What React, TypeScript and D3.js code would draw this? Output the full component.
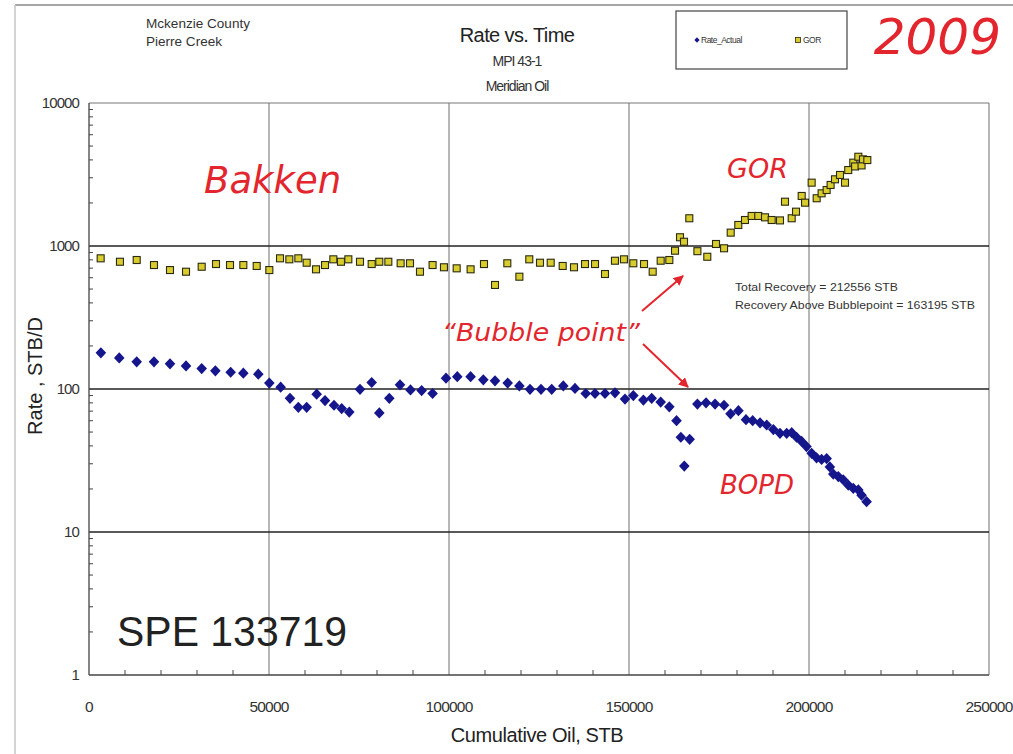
import React from "react";
import * as d3 from "d3";

// Cumulative oil (STB) and oil rate (STB/D) for each monthly point
const rateCumOil = [
  3300, 8400, 13250, 18050, 22500, 26950, 31300, 35100, 39350, 42870, 47030, 50090, 53240, 55830,
  58150, 60460, 63240, 65560, 68060, 70190, 72300, 75280, 78520, 80640, 83420, 86390, 89300, 92400,
  95440, 99170, 102300, 106000, 109530, 112780, 116300, 119550, 122500, 125560, 128530, 131750,
  135000, 137970, 140560, 143330, 146110, 148890, 151200, 154000, 156300, 158800, 161200, 163200,
  164400, 165360, 166850, 169000, 171400, 173900, 176400, 178200, 180400, 182500, 184350, 186400,
  188250, 190100, 191940, 193800, 195200, 196550, 197950, 199300, 200740, 202100, 203500, 204900,
  205800, 206750, 208140, 209500, 210900, 212300, 213700, 214600, 216000,
];
const rateActual = [
  179, 165, 155, 155, 150, 145, 139, 134, 131, 129, 127, 110, 103, 86, 74.5, 74.5, 92, 83, 77, 73,
  69, 99.5, 111, 68, 86, 107, 98.5, 97.5, 93, 119, 122, 122, 116, 114, 110, 105, 99.5, 99.5, 99.5,
  105, 101, 93, 93, 93, 94, 85, 90, 83.6, 86, 81, 75, 60, 46, 28.9, 44.5, 78.5, 80, 78.5, 77, 67,
  70.5, 61, 60, 58, 56, 52, 49, 49, 49.5, 46, 43, 39.6, 35.5, 33, 32.2, 32.6, 28.5, 25.4, 24.4, 23.2,
  21.3, 20.2, 19.7, 18.1, 16.3,
];

// Cumulative oil (STB) and gas-oil ratio for each point
const gorCumOil = [
  3240, 8600, 13250, 18050, 22500, 26950, 31300, 35280, 39170, 42870, 46580, 50090, 53060, 55650,
  58150, 60460, 63060, 65560, 67870, 69990, 72040, 75280, 78520, 80640, 83150, 86570, 89170, 91940,
  95440, 98600, 102130, 106000, 109720, 112780, 116200, 119550, 122300, 125280, 128250, 131580,
  134720, 137780, 140560, 143330, 146100, 148600, 151200, 154170, 156580, 158800, 161200, 162780,
  164170, 165280, 166750, 169000, 171750, 174170, 176400, 178250, 180360, 182220, 184070, 185920,
  187780, 189630, 191940, 193330, 195190, 196390, 197970, 198900, 200740, 202130, 203500, 204900,
  206000, 207220, 208610, 210000, 210900, 212300, 212800, 213700, 214600, 215000, 216200,
];
const gor = [
  820, 776, 798, 736, 679, 661, 716, 748, 736, 736, 725, 679, 820, 807, 820, 764, 687, 736, 807, 776,
  807, 776, 748, 776, 776, 757, 757, 661, 736, 710, 698, 687, 748, 534, 757, 610, 807, 764, 764, 725,
  710, 748, 748, 637, 789, 807, 757, 748, 661, 789, 798, 927, 1151, 1071, 1563, 920, 841, 1033, 964,
  1240, 1403, 1520, 1622, 1622, 1587, 1520, 1510, 2041, 1563, 1738, 2238, 2009, 2773, 2157, 2335,
  2463, 2672, 2927, 3139, 2773, 3397, 3826, 3600, 4209, 3660, 4035, 3990,
];

const xTicks = [0, 50000, 100000, 150000, 200000, 250000];
const yTicks = [1, 10, 100, 1000, 10000];

const W = 1013;
const H = 754;
const left = 89;
const right = 989;
const top = 103;
const bottom = 675;

const narrow = "'Liberation Sans', Arial, sans-serif";
const hand = "'DejaVu Sans', 'Open Sans', sans-serif";
const red = "#e3262d";

export default function App() {
  const x = d3.scaleLinear().domain([0, 250000]).range([left, right]);
  const y = d3.scaleLog().domain([1, 10000]).range([bottom, top]);

  const xMinor = d3.range(10000, 250000, 10000).filter((v) => v % 50000 !== 0);
  const yMinor: number[] = [];
  for (let d = 1; d < 10000; d *= 10) for (let k = 2; k <= 9; k++) yMinor.push(d * k);

  const diamond = "M0,-5.6L5.3,0L0,5.6L-5.3,0Z";

  return (
    <div style={{ position: "absolute", left: 0, top: 0 }}>
      <svg width={W} height={H} style={{ display: "block", background: "#fff" }}>
        {/* page frame */}
        <line x1={15} y1={5} x2={W} y2={5} stroke="#888" strokeWidth={1.5} />
        <line x1={15} y1={5} x2={15} y2={H} stroke="#c4c4c4" strokeWidth={1.5} />

        {/* vertical grid */}
        {xTicks.slice(1).map((t) => (
          <line key={"vx" + t} x1={x(t)} x2={x(t)} y1={top} y2={bottom} stroke="#6e6e6e" strokeWidth={1} />
        ))}
        {/* horizontal grid */}
        {yTicks.slice(1, 4).map((t) => (
          <line key={"hy" + t} x1={left} x2={right} y1={y(t)} y2={y(t)} stroke="#222" strokeWidth={1.3} />
        ))}
        <line x1={left} x2={right} y1={top} y2={top} stroke="#777" strokeWidth={1} />

        {/* axes */}
        <line x1={left} x2={left} y1={top} y2={bottom} stroke="#444" strokeWidth={1.3} />
        <line x1={left} x2={right} y1={bottom} y2={bottom} stroke="#444" strokeWidth={1.5} />
        {yMinor.map((t) => (
          <line key={"my" + t} x1={left} x2={left + 4} y1={y(t)} y2={y(t)} stroke="#444" strokeWidth={1} />
        ))}
        {xMinor.map((t) => (
          <line key={"mx" + t} x1={x(t)} x2={x(t)} y1={bottom} y2={bottom - 5} stroke="#444" strokeWidth={1} />
        ))}

        {/* tick labels */}
        {yTicks.map((t) => (
          <text key={"ly" + t} x={left - 10} y={y(t) + 5} textAnchor="end" fontFamily={narrow} fontSize={15}
            letterSpacing={-0.9} fill="#333">{t}</text>
        ))}
        {xTicks.map((t) => (
          <text key={"lx" + t} x={x(t)} y={bottom + 37} textAnchor="middle" fontFamily={narrow} fontSize={15.5}
            letterSpacing={-0.8} fill="#333">{t}</text>
        ))}

        {/* axis titles */}
        <text x={537} y={742} textAnchor="middle" fontFamily={narrow} fontSize={20} letterSpacing={-0.4} fill="#222">
          Cumulative Oil, STB
        </text>
        <text transform="translate(42,376) rotate(-90)" textAnchor="middle" fontFamily={narrow}
          fontSize={20} fill="#222">Rate , STB/D</text>

        {/* GOR points */}
        {gorCumOil.map((c, i) => (
          <rect key={"g" + i} x={x(c) - 3.5} y={y(gor[i]) - 3.5} width={7} height={7} fill="#d9cc2e"
            stroke="#2a2a10" strokeWidth={1.1} />
        ))}
        {/* oil rate points */}
        {rateCumOil.map((c, i) => (
          <path key={"r" + i} d={diamond} transform={`translate(${x(c)},${y(rateActual[i])})`} fill="#15158c" />
        ))}

        {/* headings */}
        <text x={146} y={28} fontFamily={narrow} fontSize={12.5} textLength={104} lengthAdjust="spacingAndGlyphs"
          fill="#333">Mckenzie County</text>
        <text x={146} y={46} fontFamily={narrow} fontSize={12.5} textLength={76} lengthAdjust="spacingAndGlyphs"
          fill="#333">Pierre Creek</text>
        <text x={517} y={42} textAnchor="middle" fontFamily={narrow} fontSize={20} letterSpacing={-0.6} fill="#222">
          Rate vs. Time
        </text>
        <text x={517} y={66} textAnchor="middle" fontFamily={narrow} fontSize={14} letterSpacing={-1} fill="#333">MPI 43-1</text>
        <text x={517} y={91} textAnchor="middle" fontFamily={narrow} fontSize={14} letterSpacing={-1} fill="#333">Meridian Oil</text>

        {/* legend */}
        <rect x={676} y={11} width={171} height={58} fill="#fff" stroke="#444" strokeWidth={1.2} />
        <path d="M0,-2.8L2.6,0L0,2.8L-2.6,0Z" transform="translate(697,40)" fill="#15158c" />
        <text x={701} y={43} fontFamily={narrow} fontSize={8.5} letterSpacing={-0.5} fill="#333">Rate_Actual</text>
        <rect x={795.5} y={37.5} width={5} height={5} fill="#d9cc2e" stroke="#2a2a10" strokeWidth={0.8} />
        <text x={803} y={43} fontFamily={narrow} fontSize={8.5} letterSpacing={-0.5} fill="#333">GOR</text>

        <text x={1001} y={54} textAnchor="end" fontFamily={hand} fontStyle="italic" fontSize={50} fill={red}>2009</text>

        {/* annotations */}
        <text x={204} y={193} fontFamily={hand} fontStyle="italic" fontSize={37} fill={red}>Bakken</text>
        <text x={727} y={178} fontFamily={hand} fontStyle="italic" fontSize={27} fill={red}>GOR</text>
        <text x={720} y={494} fontFamily={hand} fontStyle="italic" fontSize={26} fill={red}>BOPD</text>
        <text x={442} y={341} fontFamily={hand} fontStyle="italic" fontSize={25} textLength={198}
          lengthAdjust="spacingAndGlyphs" fill={red}>“Bubble point”</text>

        <defs>
          <marker id="arrowHead" viewBox="0 0 10 10" refX={9} refY={5} markerWidth={5} markerHeight={5} orient="auto">
            <path d="M0,0L10,5L0,10Z" fill={red} />
          </marker>
        </defs>
        <line x1={642} y1={311} x2={683} y2={276} stroke={red} strokeWidth={2} markerEnd="url(#arrowHead)" />
        <line x1={643} y1={344} x2={688} y2={387} stroke={red} strokeWidth={2} markerEnd="url(#arrowHead)" />

        <text x={735} y={291} fontFamily={narrow} fontSize={11} textLength={163} lengthAdjust="spacingAndGlyphs"
          fill="#333">Total Recovery = 212556 STB</text>
        <text x={735} y={309} fontFamily={narrow} fontSize={11} textLength={240} lengthAdjust="spacingAndGlyphs"
          fill="#333">Recovery Above Bubblepoint = 163195 STB</text>

        <text x={117} y={646} fontFamily={narrow} fontSize={42} textLength={230} lengthAdjust="spacingAndGlyphs"
          fill="#222">SPE 133719</text>
      </svg>
    </div>
  );
}
